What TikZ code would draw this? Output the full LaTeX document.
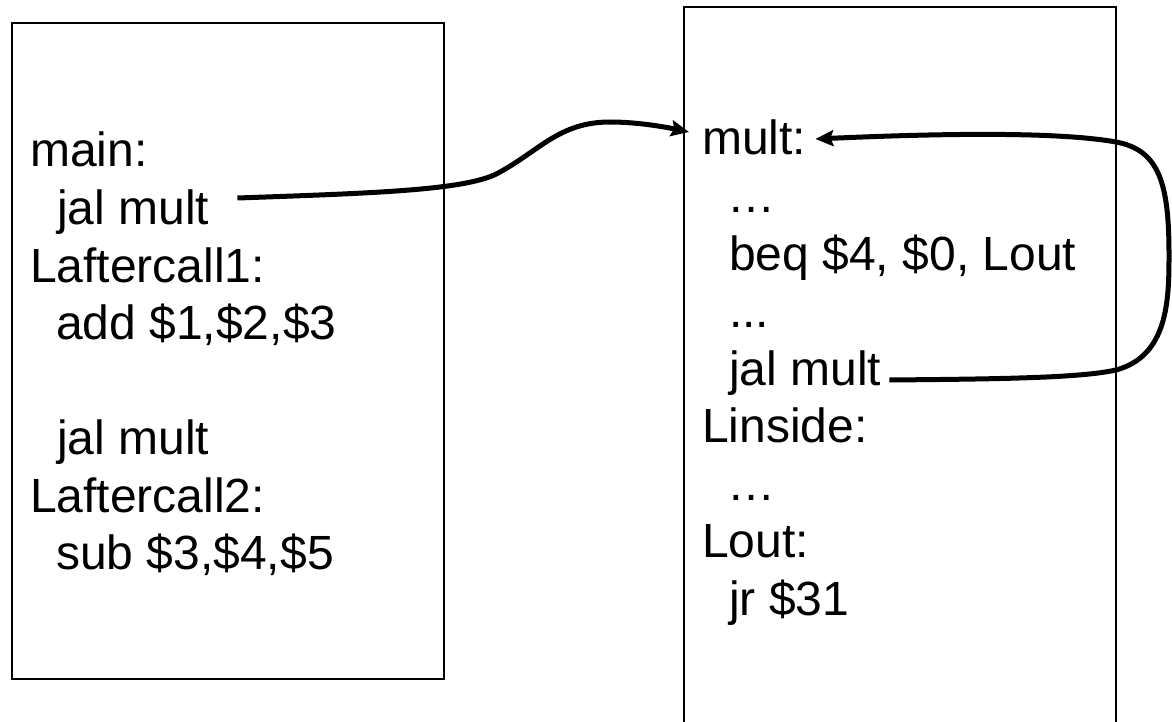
\documentclass[tikz,border=0pt]{standalone}
\usepackage{fontspec}
\setmainfont{Liberation Sans}
\usetikzlibrary{arrows.meta}
\begin{document}
\begin{tikzpicture}[x=1pt,y=1pt,
  code/.style={anchor=base west, inner sep=0pt, font=\fontsize{48}{57.5}\selectfont},
  boxline/.style={line width=2.2pt, black},
  conn/.style={line width=5pt, black, -{Stealth[length=18pt,width=16pt,inset=3pt]}}]
\clip (0,0) rectangle (1172,-722);
\fill[white] (0,0) rectangle (1172,-722);
% left box
\draw[boxline] (12,-23) rectangle (444,-679);
% right box (open at the bottom edge)
\draw[boxline] (684,-735) -- (684,-7) -- (1116,-7) -- (1116,-735);
% left text
\node[code] (lmain) at (30,-167) {main:};
\node[code] (lj1)   at (57,-224.5) {jal mult};
\node[code] (laf1)  at (30,-282) {Laftercall1:};
\node[code] (ladd)  at (56,-339.5) {add \$1,\$2,\$3};
\node[code] (lj2)   at (57,-454.5) {jal mult};
\node[code] (laf2)  at (30,-512) {Laftercall2:};
\node[code] (lsub)  at (56,-569.5) {sub \$3,\$4,\$5};
% right text
\node[code] (rmult) at (702,-155) {mult:};
\node[code] (rd1)   at (727,-212.5) {…};
\node[code] (rbeq)  at (729,-270) {beq \$4, \$0, Lout};
\node[code] (rd2)   at (729,-327.5) {...};
\node[code] (rjal)  at (729,-385) {jal mult};
\node[code] (rins)  at (702,-442.5) {Linside:};
\node[code] (rd3)   at (727,-500) {…};
\node[code] (rout)  at (702,-557.5) {Lout:};
\node[code] (rjr)   at (729,-615) {jr \$31};
% call from main to mult
\draw[conn] ([shift={(28pt,26.5pt)}]lj1.base east)
  .. controls (380,-193) and (470,-190) .. (500,-172)
  .. controls (540,-150) and (560,-122) .. (610,-122)
  .. controls (640,-122) and (670,-128) .. ([shift={(-13pt,23pt)}]rmult.base west);
% recursive call
\draw[conn] ([shift={(8pt,5pt)}]rjal.base east)
  .. controls (1000,-379) and (1080,-378) .. (1116,-370)
  .. controls (1168,-356) and (1169,-300) .. (1169,-255)
  .. controls (1169,-185) and (1160,-150) .. (1116,-142)
  .. controls (1060,-132) and (950,-133) .. ([shift={(9pt,16pt)}]rmult.base east);
\end{tikzpicture}
\end{document}
